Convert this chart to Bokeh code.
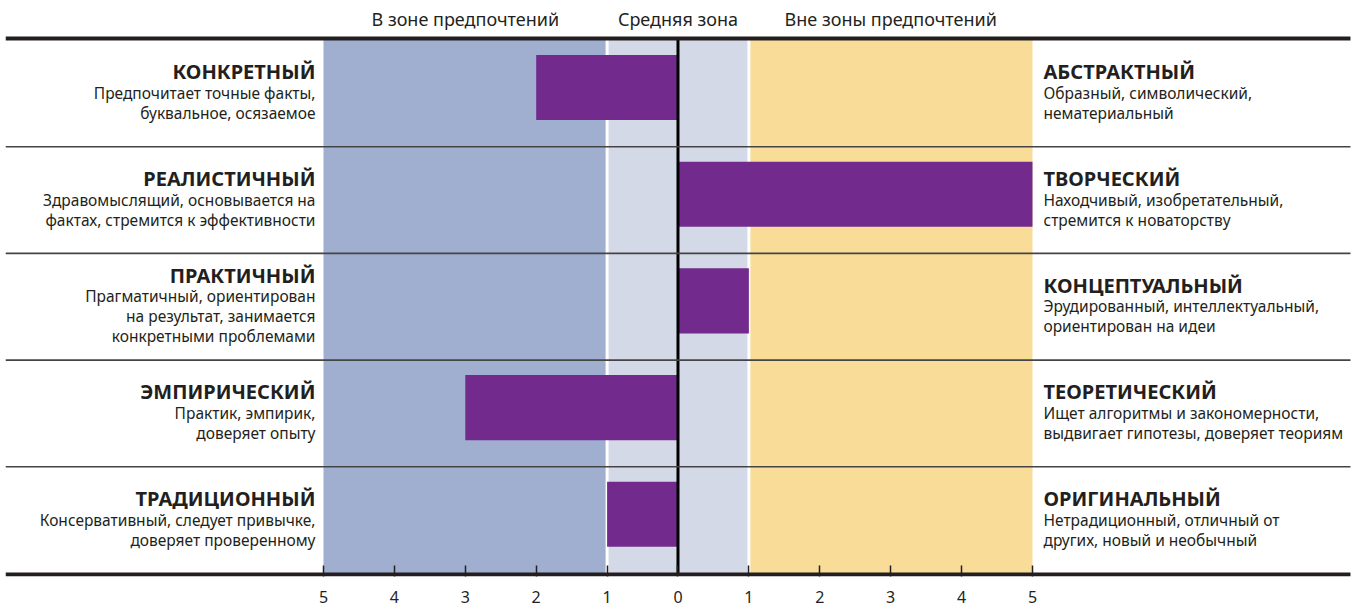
from bokeh.plotting import figure
from bokeh.models import ColumnDataSource, FixedTicker, Range1d
from bokeh.core.properties import value
from bokeh.embed import file_html
from bokeh.resources import INLINE

# ---- data ----
row_pos = [5, 4, 3, 2, 1]
scores = [-2, 5, 1, -3, -1]
left_titles = ["КОНКРЕТНЫЙ", "РЕАЛИСТИЧНЫЙ", "ПРАКТИЧНЫЙ", "ЭМПИРИЧЕСКИЙ", "ТРАДИЦИОННЫЙ"]
left_desc = [
    ["Предпочитает точные факты,", "буквальное, осязаемое"],
    ["Здравомыслящий, основывается на", "фактах, стремится к эффективности"],
    ["Прагматичный, ориентирован", "на результат, занимается", "конкретными проблемами"],
    ["Практик, эмпирик,", "доверяет опыту"],
    ["Консервативный, следует привычке,", "доверяет проверенному"],
]
right_titles = ["АБСТРАКТНЫЙ", "ТВОРЧЕСКИЙ", "КОНЦЕПТУАЛЬНЫЙ", "ТЕОРЕТИЧЕСКИЙ", "ОРИГИНАЛЬНЫЙ"]
right_desc = [
    ["Образный, символический,", "нематериальный"],
    ["Находчивый, изобретательный,", "стремится к новаторству"],
    ["Эрудированный, интеллектуальный,", "ориентирован на идеи"],
    ["Ищет алгоритмы и закономерности,", "выдвигает гипотезы, доверяет теориям"],
    ["Нетрадиционный, отличный от", "других, новый и необычный"],
]
zone_names = ["В зоне предпочтений", "Средняя зона", "Вне зоны предпочтений"]
zone_centers = [-3, 0, 3]
zone_left = [-5, -1, 1]
zone_right = [-1, 1, 5]
zone_colors = ["#a0afcf", "#d4d9e7", "#f8dc98"]
tick_values = [-5, -4, -3, -2, -1, 0, 1, 2, 3, 4, 5]
tick_labels = ["5", "4", "3", "2", "1", "0", "1", "2", "3", "4", "5"]

INK = "#231f20"
FONT = "Noto Sans"

X0, X1 = -9.485, 9.584
LINE_END = 9.485
Y0, Y1 = 0.417, 5.815
p = figure(width=1357, height=610, output_backend="svg", toolbar_location=None,
           x_range=Range1d(X0, X1), y_range=Range1d(Y0, Y1),
           y_axis_type=None, min_border_left=5, min_border_right=0,
           min_border_top=0, min_border_bottom=34)
p.outline_line_color = None
p.xgrid.visible = False
p.ygrid.visible = False
p.background_fill_color = "white"
p.border_fill_color = "white"

top_y = max(row_pos) + 0.459
bot_y = min(row_pos) - 0.564

# zone backgrounds
p.quad(left=zone_left, right=zone_right, bottom=bot_y, top=top_y,
       fill_color=zone_colors, line_color=None)
p.segment(x0=[-1, 1], x1=[-1, 1], y0=bot_y, y1=top_y, line_color="white", line_width=3)

# bars
src = ColumnDataSource(dict(y=row_pos,
                            left=[min(0, s) for s in scores],
                            right=[max(0, s) for s in scores]))
p.hbar(y="y", left="left", right="right", height=0.61, source=src,
       fill_color="#722b8d", line_color=None)

# zero line
p.segment(x0=[0], x1=[0], y0=bot_y, y1=top_y, line_color="black", line_width=3)

# row separators and heavy rules
seps = [r - 0.555 for r in row_pos[:-1]]
p.segment(x0=X0, x1=LINE_END, y0=seps, y1=seps, line_color="#444444", line_width=1.6)
p.segment(x0=[X0, X0], x1=[LINE_END, LINE_END], y0=[top_y, bot_y], y1=[top_y, bot_y],
          line_color=INK, line_width=4)

# headers
p.text(x=zone_centers, y=5.646, text=zone_names, text_font=value(FONT),
       text_font_size="18px", text_color=INK, text_align="center", text_baseline="middle")

# side labels
def side(titles, descs, x, xoff, align):
    tx, ty, tt, toff = [], [], [], []
    dx, dy, dt, doff = [], [], [], []
    for r, t, d in zip(row_pos, titles, descs):
        n = len(d)
        base = -21.5 - 10 * (n - 2)
        tx.append(x); ty.append(r - 0.055); tt.append(t); toff.append(base)
        for i, line in enumerate(d):
            dx.append(x); dy.append(r - 0.055); dt.append(line); doff.append(base + 21 + 20 * i)
    p.text(x=tx, y=ty, text=tt, y_offset=toff, x_offset=xoff, text_font=value(FONT),
           text_font_style="bold", text_font_size="20px", text_color=INK,
           text_align=align, text_baseline="alphabetic")
    p.text(x=dx, y=dy, text=dt, y_offset=doff, x_offset=xoff, text_font=value(FONT),
           text_font_size="15.5px", text_color=INK,
           text_align=align, text_baseline="alphabetic")

side(left_titles, left_desc, -5, -8, "right")
side(right_titles, right_desc, 5, 11, "left")

# axis
ax = p.xaxis[0]
ax.ticker = FixedTicker(ticks=tick_values)
ax.major_label_overrides = {v: l for v, l in zip(tick_values, tick_labels)}
ax.axis_line_color = None
ax.major_tick_in = 11
ax.major_tick_out = 0
ax.major_tick_line_color = INK
ax.major_tick_line_width = 1.5
ax.minor_tick_line_color = None
ax.major_label_text_font = FONT
ax.major_label_text_font_size = "16px"
ax.major_label_text_color = INK
ax.major_label_standoff = 14

open("out.html", "w").write(file_html(p, INLINE))
